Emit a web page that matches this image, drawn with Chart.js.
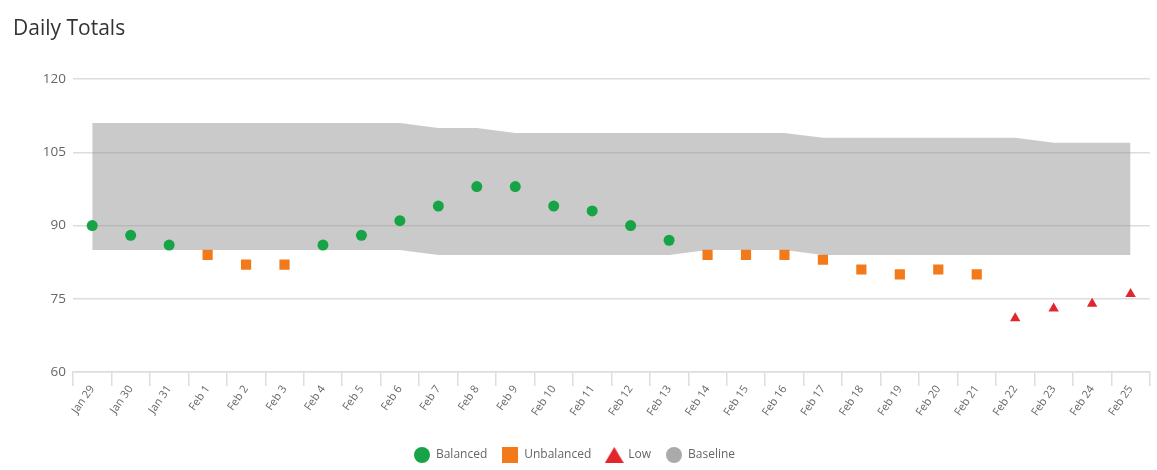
<!DOCTYPE html>
<html>
<head>
<meta charset="utf-8">
<script src="https://cdn.jsdelivr.net/npm/chart.js@4/dist/chart.umd.min.js"></script>
<style>
  html, body { margin: 0; padding: 0; background: #fff; }
  #wrap { width: 1157px; height: 470px; position: relative; }
</style>
</head>
<body>
<div id="wrap"><canvas id="c"></canvas></div>
<script>
const categories = ["Jan 29","Jan 30","Jan 31","Feb 1","Feb 2","Feb 3","Feb 4","Feb 5","Feb 6","Feb 7","Feb 8","Feb 9","Feb 10","Feb 11","Feb 12","Feb 13","Feb 14","Feb 15","Feb 16","Feb 17","Feb 18","Feb 19","Feb 20","Feb 21","Feb 22","Feb 23","Feb 24","Feb 25"];
const balanced   = [90,88,86,null,null,null,86,88,91,94,98,98,94,93,90,87,null,null,null,null,null,null,null,null,null,null,null,null];
const unbalanced = [null,null,null,84,82,82,null,null,null,null,null,null,null,null,null,null,84,84,84,83,81,80,81,80,null,null,null,null];
const low        = [null,null,null,null,null,null,null,null,null,null,null,null,null,null,null,null,null,null,null,null,null,null,null,null,71,73,74,76];
const baselineUpper = [111,111,111,111,111,111,111,111,111,110,110,109,109,109,109,109,109,109,109,108,108,108,108,108,108,107,107,107];
const baselineLower = [85,85,85,85,85,85,85,85,85,84,84,84,84,84,84,84,85,85,85,84,84,84,84,84,84,84,84,84];
const yTicks = [60,75,90,105,120];

const GREEN = '#16a446';
const ORANGE = '#f27a1a';
const RED = '#e2262e';
const GREY_LEGEND = '#aaaaaa';

function makeIcon(kind, color) {
  const c = document.createElement('canvas');
  const w = kind === 'triangle' ? 19 : 16, h = 16;
  c.width = w; c.height = h;
  const g = c.getContext('2d');
  g.fillStyle = color;
  if (kind === 'circle') { g.beginPath(); g.arc(8, 8, 8, 0, Math.PI * 2); g.fill(); }
  else if (kind === 'rect') { g.fillRect(0, 0, 16, 16); }
  else { g.beginPath(); g.moveTo(9.5, 0); g.lineTo(19, 16); g.lineTo(0, 16); g.closePath(); g.fill(); }
  return c;
}

const legendShift = {
  id: 'legendShift',
  afterLayout(chart) {
    if (chart.legend) { chart.legend.left -= 15; }
  }
};

const ctx = document.getElementById('c');
new Chart(ctx, {
  type: 'line',
  plugins: [legendShift],
  data: {
    labels: categories,
    datasets: [
      { label: 'Balanced', data: balanced, showLine: false, pointStyle: 'circle', pointRadius: 5.5, pointBorderWidth: 0,
        pointBackgroundColor: GREEN, backgroundColor: GREEN, borderColor: GREEN, order: 0 },
      { label: 'Unbalanced', data: unbalanced, showLine: false, pointStyle: 'rect', pointRadius: 7.2, pointBorderWidth: 0,
        pointBackgroundColor: ORANGE, backgroundColor: ORANGE, borderColor: ORANGE, order: 0 },
      { label: 'Low', data: low, showLine: false, pointStyle: 'triangle', pointRadius: 6, pointBorderWidth: 0,
        pointBackgroundColor: RED, backgroundColor: RED, borderColor: RED, order: 0 },
      { label: 'Baseline', data: baselineUpper, pointRadius: 0, borderWidth: 0, borderColor: 'rgba(0,0,0,0)',
        backgroundColor: 'rgba(150,150,150,0.5)', fill: false, tension: 0, order: 10 },
      { label: 'BaselineLower', data: baselineLower, pointRadius: 0, borderWidth: 0, borderColor: 'rgba(0,0,0,0)',
        backgroundColor: 'rgba(150,150,150,0.5)', fill: '-1', tension: 0, order: 10 }
    ]
  },
  options: {
    responsive: true,
    maintainAspectRatio: false,
    animation: false,
    events: [],
    layout: { padding: { top: 5, left: 13, right: 6, bottom: -1 } },
    plugins: {
      tooltip: { enabled: false },
      title: {
        display: true, text: 'Daily Totals', align: 'start', color: '#333333',
        font: { family: "'Open Sans'", size: 21, weight: 'normal' },
        padding: { top: 11, bottom: 38 }
      },
      legend: {
        position: 'bottom',
        labels: {
          usePointStyle: true,
          pointStyleWidth: 16,
          padding: 15,
          color: '#666666',
          font: { family: "'Open Sans'", size: 12 },
          generateLabels: function(chart) {
            const items = [
              { text: 'Balanced', kind: 'circle', color: GREEN, i: 0 },
              { text: 'Unbalanced', kind: 'rect', color: ORANGE, i: 1 },
              { text: 'Low', kind: 'triangle', color: RED, i: 2 },
              { text: 'Baseline', kind: 'circle', color: GREY_LEGEND, i: 3 }
            ];
            return items.map(it => ({
              text: it.text, fillStyle: it.color, strokeStyle: it.color, lineWidth: 0,
              pointStyle: makeIcon(it.kind, it.color), hidden: false, datasetIndex: it.i,
              fontColor: '#666666'
            }));
          }
        }
      }
    },
    scales: {
      x: {
        offset: true,
        grid: { offset: true, drawOnChartArea: false, drawTicks: true, tickLength: 14, color: '#dddddd', lineWidth: 1.5 },
        border: { display: true, color: '#dddddd', width: 1.5 },
        ticks: { autoSkip: false, minRotation: 55, maxRotation: 55, padding: -3, color: '#666666',
                 font: { family: "'Open Sans'", size: 11 } },
        afterFit: function(scale) { scale.height = 62; }
      },
      y: {
        min: 60, max: 120,
        afterBuildTicks: function(scale) { scale.ticks = yTicks.map(v => ({ value: v })); },
        grid: { drawTicks: false, color: '#dddddd', lineWidth: 1.5 },
        border: { display: false },
        ticks: { padding: 7, color: '#666666', font: { family: "'Open Sans'", size: 13.5 } },
        afterFit: function(scale) { scale.width = 60; }
      }
    }
  }
});
</script>
</body>
</html>
